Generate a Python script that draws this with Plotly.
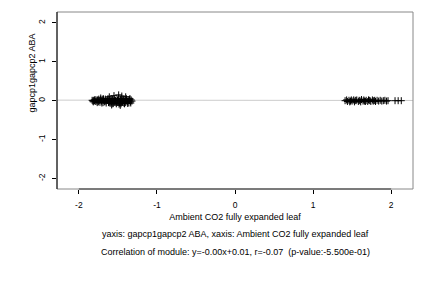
import plotly.graph_objects as go

left_x = [-1.83,-1.82,-1.81,-1.80,-1.79,-1.78,-1.77,-1.76,-1.75,-1.74,-1.73,-1.72,-1.71,-1.70,-1.69,-1.68,-1.67,-1.66,-1.65,-1.64,
          -1.63,-1.62,-1.61,-1.60,-1.59,-1.58,-1.57,-1.56,-1.55,-1.54,-1.53,-1.52,-1.51,-1.50,-1.49,-1.48,-1.47,-1.46,-1.45,-1.44,
          -1.43,-1.42,-1.41,-1.40,-1.39,-1.38,-1.37,-1.36,-1.35,-1.34,-1.33,-1.32,
          -1.815,-1.795,-1.765,-1.745,-1.705,-1.685,-1.655,-1.625,-1.605,-1.585,-1.565,-1.545,-1.525,-1.505,-1.485,-1.465,-1.455,
          -1.435,-1.415,-1.395,-1.375,-1.355,-1.345,-1.335,
          -1.55,-1.49,-1.45,-1.40,-1.61,-1.72,-1.58,-1.47]
left_y = [0.01,-0.01,0.01,0.00,-0.02,0.02,-0.01,0.02,-0.03,0.01,-0.04,0.03,-0.01,0.04,-0.05,0.02,-0.03,0.04,-0.06,0.01,
          0.04,-0.05,0.03,-0.07,0.05,-0.02,0.03,-0.07,0.05,-0.04,0.01,-0.08,0.04,-0.03,0.06,-0.06,0.02,-0.08,0.05,-0.03,
          0.04,-0.07,0.03,-0.05,0.05,-0.02,0.03,-0.06,0.04,-0.03,0.02,-0.01,
          -0.03,0.03,-0.05,0.04,-0.06,0.05,-0.01,0.05,-0.03,0.00,-0.08,0.02,-0.05,0.01,-0.09,0.04,-0.01,
          0.01,-0.08,0.01,-0.07,0.01,0.05,-0.06,
          0.13,0.15,0.12,0.10,0.10,0.07,-0.11,-0.12]

right_x = [1.41,1.43,1.44,1.46,1.47,1.49,1.50,1.52,1.53,1.55,1.56,1.58,1.59,1.61,1.62,1.64,1.65,1.67,1.68,1.70,
           1.71,1.73,1.74,1.76,1.77,1.79,1.80,1.82,1.84,1.86,1.88,1.90,1.92,1.94,1.96,2.05,2.09,2.13,
           1.48,1.54,1.60,1.66,1.72,1.78]
right_y = [0.00,0.02,-0.02,0.01,-0.03,0.02,-0.01,0.02,-0.03,0.00,0.02,-0.02,0.01,-0.03,0.03,-0.01,0.02,-0.02,0.01,-0.02,
           0.02,0.00,-0.02,0.02,-0.01,0.01,-0.02,0.01,-0.01,0.01,-0.01,0.00,0.01,-0.01,0.00,0.00,0.00,0.00,
           -0.01,0.01,0.00,-0.01,0.01,0.00]

slope = -0.002
intercept = 0.01
x_range = [-2.28, 2.28]
y_range = [-2.27, 2.28]
tick_vals = [-2, -1, 0, 1, 2]
tick_text = ["-2", "-1", "0", "1", "2"]

x_label = "Ambient CO2 fully expanded leaf"
y_label = "gapcp1gapcp2 ABA"
line1 = "yaxis: gapcp1gapcp2 ABA, xaxis: Ambient CO2 fully expanded leaf"
line2 = "Correlation of module: y=-0.00x+0.01, r=-0.07  (p-value:-5.500e-01)"

FONT = "Liberation Sans, Arial, sans-serif"
TS = 9.0
fig = go.Figure()
fig.add_trace(go.Scatter(x=[x_range[0], x_range[1]],
                         y=[intercept + slope * x_range[0], intercept + slope * x_range[1]],
                         mode="lines", line=dict(color="#cccccc", width=1), hoverinfo="skip"))
fig.add_trace(go.Scatter(x=left_x + right_x, y=left_y + right_y, mode="markers",
                         marker=dict(symbol="cross-thin", size=5, line=dict(color="black", width=1))))

fig.update_layout(
    width=432, height=288, showlegend=False,
    margin=dict(l=57, r=19, t=12, b=99),
    plot_bgcolor="white", paper_bgcolor="white",
    font=dict(family=FONT, size=8.5, color="black"),
    xaxis=dict(range=x_range, tickvals=tick_vals, ticktext=tick_text, ticks="outside", ticklen=4, tickcolor="black",
               showgrid=False, zeroline=False, showline=False, ticklabelstandoff=4,
               title=dict(text=x_label, standoff=4, font=dict(size=TS))),
    yaxis=dict(range=y_range, tickvals=tick_vals, ticktext=tick_text, ticks="outside", ticklen=4, tickcolor="black",
               tickangle=-90, showgrid=False, zeroline=False, showline=False, ticklabelstandoff=4),
)
# box
fig.add_shape(type="rect", xref="paper", yref="paper", x0=0, x1=1, y0=0, y1=1,
              line=dict(color="#888888", width=1))
fig.add_shape(type="line", xref="paper", yref="paper", x0=0, x1=0, y0=0, y1=1,
              line=dict(color="black", width=1))
fig.add_shape(type="line", xref="x", yref="paper", x0=tick_vals[0], x1=tick_vals[-1], y0=0, y1=0,
              line=dict(color="#333333", width=1))

fig.add_annotation(text=y_label, xref="paper", yref="y", x=-0.07, y=0.7, textangle=-90,
                   showarrow=False, font=dict(size=TS), xanchor="center", yanchor="middle")
fig.add_annotation(text=line1, xref="paper", yref="paper", x=0.5, y=-0.255, showarrow=False,
                   xanchor="center", yanchor="middle", font=dict(size=TS))
fig.add_annotation(text=line2, xref="paper", yref="paper", x=0.5, y=-0.357, showarrow=False,
                   xanchor="center", yanchor="middle", font=dict(size=TS))

fig.write_html("out.html")
